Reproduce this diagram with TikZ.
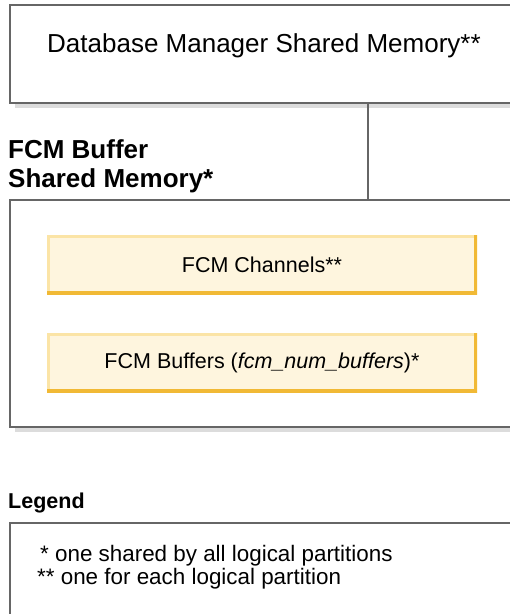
\documentclass[tikz,border=0pt]{standalone}
\usepackage{fontspec}
\setmainfont{Liberation Sans}
\usetikzlibrary{shadows}
\definecolor{edgegray}{HTML}{666666}
\definecolor{buffill}{HTML}{FEF5DE}
\definecolor{buflight}{HTML}{FBE4A6}
\definecolor{bufdark}{HTML}{F1B935}
\definecolor{shadowgray}{HTML}{DCDCDC}

\begin{document}
\begin{tikzpicture}[x=1pt,y=-1pt,
        membox/.style={shape=rectangle,draw=edgegray,line width=1.6pt,fill=white,inner sep=0pt},
        shadowed/.style={drop shadow={shadow xshift=5pt,shadow yshift=-5pt,fill=shadowgray,opacity=1}},
        bufbox/.style={shape=rectangle,fill=buffill,inner sep=0pt,minimum width=430pt,minimum height=59pt,
            font=\fontsize{21.5}{24}\selectfont,
            path picture={
                \draw[buflight,line width=6pt] (path picture bounding box.south west) -- (path picture bounding box.north west) -- (path picture bounding box.north east);
                \draw[bufdark,line width=6pt] (path picture bounding box.north east) -- (path picture bounding box.south east) -- (path picture bounding box.south west);
            }}]
        \useasboundingbox (0,0) rectangle (510,614);

        %boxes
        \node[membox,shadowed,minimum width=508pt,minimum height=98pt] (dbm) at (264,54) {};
        \node[font=\fontsize{26}{29}\selectfont] (dbmtext) at (264,46) {Database Manager Shared Memory**};
        \node[membox,shadowed,minimum width=508pt,minimum height=227pt] (fcm) at (264,313.5) {};
        \node[anchor=base west,align=left,inner sep=0pt,font=\bfseries\fontsize{26}{29}\selectfont] (fcmtitle) at (8,187) {FCM Buffer\\Shared Memory*};

        \node[bufbox] (chan) at (262,264.5) {FCM Channels**};
        \node[bufbox] (buf) at (262,362.5) {FCM Buffers (\textit{fcm\_num\_buffers})*};

        %link between the two memories
        \coordinate (tap) at (368,150);
        \path[draw=edgegray,line width=1.6pt] (tap |- dbm.south) -- (tap |- fcm.north);

        %legend
        \node[anchor=base west,inner sep=0pt,font=\bfseries\fontsize{21.5}{24}\selectfont] (legtitle) at (8,508) {Legend};
        \node[membox,minimum width=508pt,minimum height=120pt] (legbox) at (264,583) {};
        \node[anchor=base west,align=left,inner sep=0pt,font=\fontsize{22.4}{23}\selectfont] (legtext) at (37,584) {\hspace{3pt}* one shared by all logical partitions\\** one for each logical partition};
\end{tikzpicture}
\end{document}
